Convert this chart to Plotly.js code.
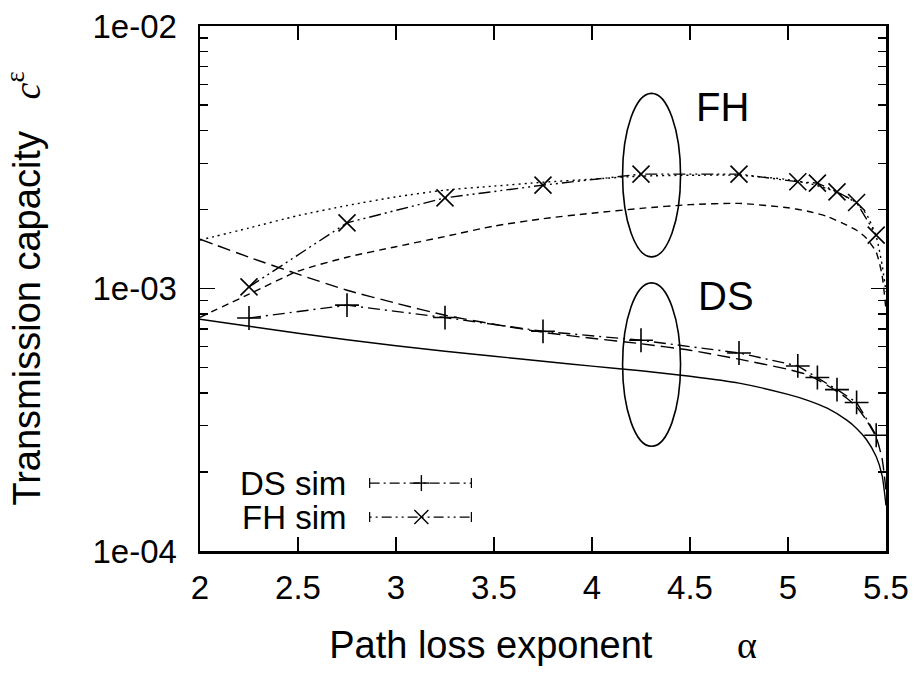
<!DOCTYPE html>
<html>
<head>
<meta charset="utf-8">
<script src="https://cdn.plot.ly/plotly-3.0.1.min.js"></script>
<style>html,body{margin:0;padding:0;background:#fff;}</style>
</head>
<body>
<div id="chart" style="width:921px;height:673px;"></div>
<script>
// Path loss exponent grid for analytic curves
const alphaTheory = [2, 2.25, 2.5, 2.75, 3, 3.25, 3.5, 3.75, 4, 4.25, 4.5, 4.75, 5, 5.1, 5.2, 5.3, 5.35, 5.4, 5.45, 5.48, 5.5];
// DS analytic (solid)
const dsSolid = [7.64e-4, 7.18e-4, 6.75e-4, 6.38e-4, 6.05e-4, 5.77e-4, 5.52e-4, 5.28e-4, 5.06e-4, 4.86e-4, 4.63e-4, 4.36e-4, 3.95e-4, 3.75e-4, 3.50e-4, 3.15e-4, 2.93e-4, 2.66e-4, 2.29e-4, 1.94e-4, 1.49e-4];
// DS analytic (long dashed)
const dsDashed = [1.542e-3, 1.316e-3, 1.134e-3, 9.85e-4, 8.79e-4, 7.91e-4, 7.31e-4, 6.81e-4, 6.46e-4, 6.16e-4, 5.82e-4, 5.38e-4, 4.92e-4, 4.69e-4, 4.28e-4, 3.82e-4, 3.54e-4, 3.15e-4, 2.71e-4, 2.25e-4, 1.70e-4];
// FH analytic (dotted)
const fhDotted = [1.53e-3, 1.70e-3, 1.895e-3, 2.07e-3, 2.234e-3, 2.37e-3, 2.455e-3, 2.54e-3, 2.61e-3, 2.68e-3, 2.70e-3, 2.70e-3, 2.60e-3, 2.52e-3, 2.40e-3, 2.23e-3, 2.11e-3, 1.92e-3, 1.58e-3, 1.23e-3, 9.7e-4];
// FH analytic (short dashed)
const fhDashed = [7.77e-4, 9.51e-4, 1.164e-3, 1.316e-3, 1.443e-3, 1.578e-3, 1.729e-3, 1.845e-3, 1.936e-3, 2.02e-3, 2.087e-3, 2.11e-3, 2.03e-3, 1.97e-3, 1.88e-3, 1.742e-3, 1.667e-3, 1.555e-3, 1.375e-3, 1.124e-3, 8.26e-4];
// Simulation points
const alphaSim = [2.25, 2.75, 3.25, 3.75, 4.25, 4.75, 5.05, 5.15, 5.25, 5.35, 5.45];
const dsSim = [7.72e-4, 8.64e-4, 7.75e-4, 6.87e-4, 6.35e-4, 5.68e-4, 5.07e-4, 4.58e-4, 4.12e-4, 3.68e-4, 2.76e-4];
const fhSim = [1.014e-3, 1.778e-3, 2.215e-3, 2.476e-3, 2.728e-3, 2.728e-3, 2.55e-3, 2.52e-3, 2.335e-3, 2.127e-3, 1.597e-3];
// Axis ticks
const xTicks = [2, 2.5, 3, 3.5, 4, 4.5, 5, 5.5];
const xTickText = ['2', '2.5', '3', '3.5', '4', '4.5', '5', '5.5'];
const yTicks = [1e-4, 1e-3, 1e-2];
const yTickText = ['1e-04', '1e-03', '1e-02'];
const legendNames = ['DS sim', 'FH sim'];
const groupLabels = ['FH', 'DS'];

const LW = 1.4;
const traces = [
  {x: alphaTheory, y: dsSolid, mode: 'lines', line: {color: '#000', width: LW, dash: 'solid', shape: 'spline', smoothing: 0.6}, name: 'DS', showlegend: false},
  {x: alphaTheory, y: dsDashed, mode: 'lines', line: {color: '#000', width: LW, dash: '13px,6px', shape: 'spline', smoothing: 0.6}, name: 'DS bound', showlegend: false},
  {x: alphaTheory, y: fhDotted, mode: 'lines', line: {color: '#000', width: LW, dash: '2px,4px', shape: 'spline', smoothing: 0.6}, name: 'FH bound', showlegend: false},
  {x: alphaTheory, y: fhDashed, mode: 'lines', line: {color: '#000', width: LW, dash: '7px,5px', shape: 'spline', smoothing: 0.6}, name: 'FH', showlegend: false},
  {x: alphaSim, y: dsSim, mode: 'lines+markers', name: legendNames[0], showlegend: false,
   line: {color: '#000', width: LW, dash: '12px,5px,2px,5px'},
   marker: {symbol: 'cross-thin', size: 17, color: '#000', line: {color: '#000', width: 1.6}}},
  {x: alphaSim, y: fhSim, mode: 'lines+markers', name: legendNames[1], showlegend: false,
   line: {color: '#000', width: LW, dash: '12px,4px,2px,4px,2px,4px'},
   marker: {symbol: 'x-thin', size: 17, color: '#000', line: {color: '#000', width: 1.6}}}
];

const FONT = 'Liberation Sans, Arial, Helvetica, sans-serif';
const SERIF = 'Liberation Serif, DejaVu Serif, serif';

// legend key shapes (paper coordinates)
function legendRow(yc, sym, dash) {
  const x0 = 0.2473, x1 = 0.3956, xm = 0.3227;
  const s = [
    {type: 'line', xref: 'paper', yref: 'paper', x0: x0, x1: x1, y0: yc, y1: yc, line: {color: '#000', width: 1.2, dash: dash}},
    {type: 'line', xref: 'paper', yref: 'paper', x0: x0, x1: x0, ysizemode: 'pixel', yanchor: yc, y0: -5, y1: 5, line: {color: '#000', width: 1.2}},
    {type: 'line', xref: 'paper', yref: 'paper', x0: x1, x1: x1, ysizemode: 'pixel', yanchor: yc, y0: -5, y1: 5, line: {color: '#000', width: 1.2}}
  ];
  if (sym === '+') {
    s.push({type: 'line', xref: 'paper', yref: 'paper', xsizemode: 'pixel', xanchor: xm, x0: -8, x1: 8, ysizemode: 'pixel', yanchor: yc, y0: 0, y1: 0, line: {color: '#000', width: 1.4}});
    s.push({type: 'line', xref: 'paper', yref: 'paper', xsizemode: 'pixel', xanchor: xm, x0: 0, x1: 0, ysizemode: 'pixel', yanchor: yc, y0: -8, y1: 8, line: {color: '#000', width: 1.4}});
  } else {
    s.push({type: 'line', xref: 'paper', yref: 'paper', xsizemode: 'pixel', xanchor: xm, x0: -7, x1: 7, ysizemode: 'pixel', yanchor: yc, y0: -7, y1: 7, line: {color: '#000', width: 1.4}});
    s.push({type: 'line', xref: 'paper', yref: 'paper', xsizemode: 'pixel', xanchor: xm, x0: -7, x1: 7, ysizemode: 'pixel', yanchor: yc, y0: 7, y1: -7, line: {color: '#000', width: 1.4}});
  }
  return s;
}

const shapes = [
  {type: 'circle', xref: 'paper', yref: 'paper', x0: 0.616, x1: 0.7005, y0: 0.5602, y1: 0.8717, line: {color: '#000', width: 1.6}},
  {type: 'circle', xref: 'paper', yref: 'paper', x0: 0.616, x1: 0.7005, y0: 0.1994, y1: 0.5107, line: {color: '#000', width: 1.6}}
].concat(legendRow(0.1294, '+', '10px,4px,2px,4px'), legendRow(0.0646, 'x', '2px,4px,2px,4px,10px,4px'));

const layout = {
  width: 921, height: 673,
  margin: {l: 200, r: 35, t: 26, b: 122},
  paper_bgcolor: '#fff', plot_bgcolor: '#fff',
  font: {family: FONT, color: '#000'},
  showlegend: false,
  xaxis: {
    type: 'linear', range: [2, 5.5], tickvals: xTicks, ticktext: xTickText,
    ticks: 'inside', ticklen: 14, tickwidth: 1.6, tickcolor: '#000',
    showline: true, linewidth: 2.5, linecolor: '#000', mirror: 'ticks',
    showgrid: false, zeroline: false,
    tickfont: {family: FONT, size: 33, color: '#000'},
    ticklabelstandoff: 6,
    title: {text: 'Path loss exponent\u00A0\u00A0\u00A0\u00A0\u00A0\u00A0\u00A0\u00A0<span style="font-family:' + SERIF + '">α</span>', font: {family: FONT, size: 38, color: '#000'}, standoff: 27},
    automargin: false
  },
  yaxis: {
    type: 'log', range: [-4, -2], tickvals: yTicks, ticktext: yTickText,
    ticks: 'inside', ticklen: 15, tickwidth: 1.6, tickcolor: '#000',
    minor: {ticks: 'inside', ticklen: 8, tickwidth: 1.4, tickcolor: '#000', dtick: 'D1', showgrid: false},
    showline: true, linewidth: 2.5, linecolor: '#000', mirror: 'ticks',
    showgrid: false, zeroline: false,
    tickfont: {family: FONT, size: 33, color: '#000'},
    ticklabelstandoff: 14,
    title: {text: 'Transmission capacity\u00A0\u00A0\u00A0<span style="font-family:' + SERIF + '"><i>c</i><sup>ε</sup></span>', font: {family: FONT, size: 38, color: '#000'}, standoff: 44},
    automargin: false
  },
  shapes: shapes,
  annotations: [
    {xref: 'paper', yref: 'paper', x: 0.7622, y: 0.8456, xanchor: 'center', yanchor: 'middle', text: groupLabels[0], showarrow: false, font: {family: FONT, size: 40, color: '#000'}},
    {xref: 'paper', yref: 'paper', x: 0.7666, y: 0.4853, xanchor: 'center', yanchor: 'middle', text: groupLabels[1], showarrow: false, font: {family: FONT, size: 40, color: '#000'}},
    {xref: 'paper', yref: 'paper', x: 0.2152, y: 0.1294, xanchor: 'right', yanchor: 'middle', text: legendNames[0], showarrow: false, font: {family: FONT, size: 33, color: '#000'}},
    {xref: 'paper', yref: 'paper', x: 0.2152, y: 0.0646, xanchor: 'right', yanchor: 'middle', text: legendNames[1], showarrow: false, font: {family: FONT, size: 33, color: '#000'}}
  ]
};

Plotly.newPlot('chart', traces, layout, {staticPlot: true, displayModeBar: false});
</script>
</body>
</html>
